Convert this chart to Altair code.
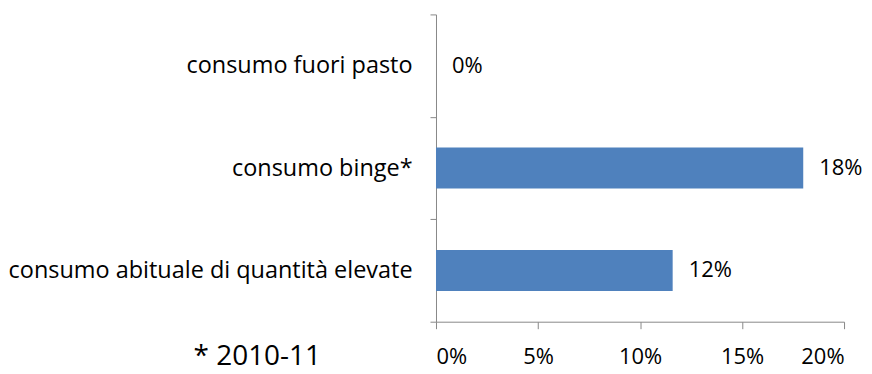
import altair as alt
import pandas as pd

categories = ["consumo fuori pasto", "consumo binge*", "consumo abituale di quantità elevate"]
values = [0.0, 0.18, 0.116]
x_ticks = [0, 0.05, 0.10, 0.15, 0.20]
footnote = ["* 2010-11"]

df = pd.DataFrame({"cat": categories, "val": values})
FONT = "Open Sans"

y_enc = alt.Y("cat:N", sort=categories,
              scale=alt.Scale(paddingInner=0, paddingOuter=0),
              axis=alt.Axis(title=None, tickBand="extent", domainColor="#888888",
                            tickColor="#888888", tickSize=6, labelFont=FONT,
                            labelFontSize=23.5, labelColor="#000000", labelPadding=18,
                            labelLimit=500))
x_enc = alt.X("val:Q", scale=alt.Scale(domain=[0, 0.2], nice=False),
              axis=alt.Axis(title=None, format=".0%", values=x_ticks, grid=False,
                            domainColor="#888888", tickColor="#888888", tickSize=7,
                            labelFont=FONT, labelFontSize=22, labelColor="#000000",
                            labelPadding=18))

bars = alt.Chart(df).mark_bar(color="#4F81BD",
                              height=alt.RelativeBandSize(0.4)).encode(
    x=x_enc, y=y_enc)
labels = alt.Chart(df).mark_text(align="left", dx=16, font=FONT, fontSize=22,
                                 color="#000000").encode(
    x="val:Q", y=alt.Y("cat:N", sort=categories), text=alt.Text("val:Q", format=".0%"))
note = alt.Chart(pd.DataFrame({"t": footnote})).mark_text(
    align="left", baseline="middle", font=FONT, fontSize=28, color="#000000").encode(
    x=alt.value(-243), y=alt.value(343), text="t:N")

chart = alt.layer(bars, labels, note).properties(
    width=409, height=308,
    autosize=alt.AutoSizeParams(type="none"),
    padding={"left": 429, "top": 6, "right": 20, "bottom": 52},
).configure_view(stroke=None)

chart.save("out.html", embed_options={"renderer": "svg", "actions": False})
